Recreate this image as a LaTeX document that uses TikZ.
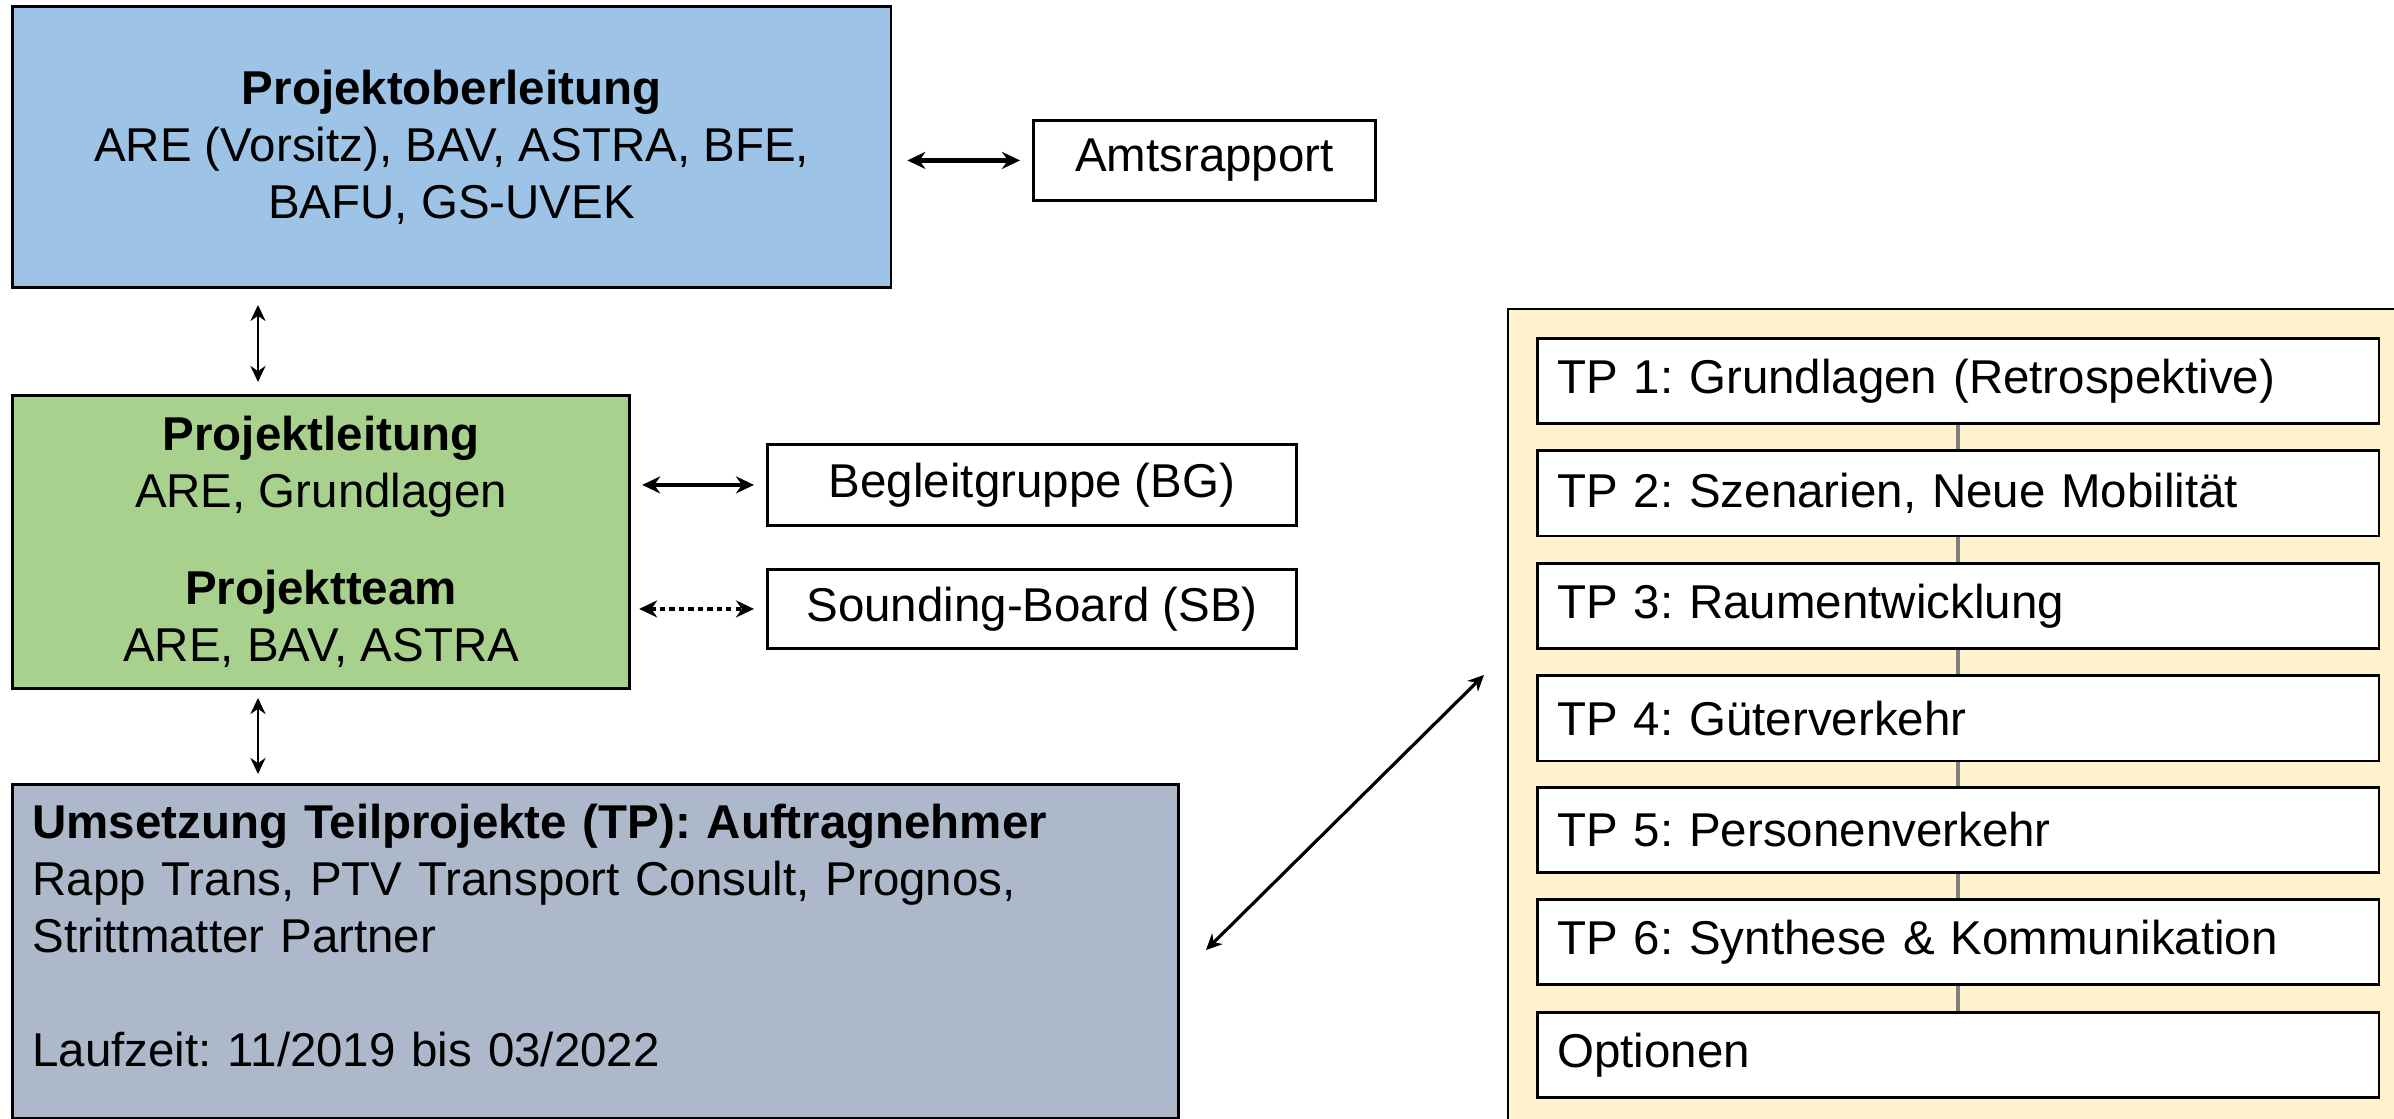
\documentclass[tikz,border=0pt]{standalone}
\usepackage{fontspec}
\setmainfont{Liberation Sans}
\usetikzlibrary{arrows.meta,calc}
\definecolor{blueF}{RGB}{157,195,230}
\definecolor{greenF}{RGB}{169,209,142}
\definecolor{grayF}{RGB}{173,185,202}
\definecolor{yellowF}{RGB}{255,242,204}
\definecolor{connG}{RGB}{128,128,128}
\begin{document}
\frenchspacing
\begin{tikzpicture}[x=0.01cm,y=-0.01cm,
  font=\fontsize{13.5}{16.2}\selectfont,
  box/.style={draw=black, line width=0.8pt, inner sep=0pt, anchor=north west},
  tpbox/.style={box, fill=white, minimum width=8.41cm, minimum height=0.85cm,
    text width=8.01cm, inner xsep=0.2cm, align=left},
  harr/.style={{Stealth[length=0.18cm,width=0.17cm]}-{Stealth[length=0.18cm,width=0.17cm]}, line width=1.2pt},
  varr/.style={{Stealth[length=0.16cm,width=0.15cm]}-{Stealth[length=0.16cm,width=0.15cm]}, line width=0.8pt},
  tpconn/.style={draw=connG, line width=1.3pt}]
\useasboundingbox (0,0) rectangle (2394,1119);

% left column
\node[box, fill=blueF, minimum width=8.78cm, minimum height=2.81cm, align=center] (pol) at (11,5)
  {\textbf{Projektoberleitung}\\ARE (Vorsitz), BAV, ASTRA, BFE,\\BAFU, GS-UVEK};
\node[box, fill=white, minimum width=3.42cm, minimum height=0.80cm] (amt) at (1032,119) {Amtsrapport};

\node[box, fill=greenF, minimum width=6.17cm, minimum height=2.93cm, align=center] (pl) at (11,394)
  {\textbf{Projektleitung}\\ARE, Grundlagen\\[0.4cm]\textbf{Projektteam}\\ARE, BAV, ASTRA};
\node[box, fill=white, minimum width=5.29cm, minimum height=0.81cm] (bg) at (766,443) {Begleitgruppe (BG)};
\node[box, fill=white, minimum width=5.29cm, minimum height=0.79cm] (sb) at (766,568) {Sounding-Board (SB)};

\node[box, fill=grayF, minimum width=11.65cm, minimum height=3.34cm, text width=11.25cm, inner xsep=0.2cm, align=left] (tp) at (11,783)
  {\textbf{Umsetzung Teilprojekte (TP): Auftragnehmer}\\Rapp Trans, PTV Transport Consult, Prognos,\\Strittmatter Partner\\[0.57cm]Laufzeit: 11/2019 bis 03/2022\rule[-0.33cm]{0pt}{0.33cm}};

% right container
\draw[line width=0.8pt, fill=yellowF] (1508,309) rectangle (2420,1140);
\node[tpbox] (t1) at (1536,337) {TP 1: Grundlagen (Retrospektive)};
\node[tpbox] (t2) at (1536,449.5) {TP 2: Szenarien, Neue Mobilität};
\node[tpbox] (t3) at (1536,562) {TP 3: Raumentwicklung};
\node[tpbox] (t4) at (1536,674.5) {TP 4: Güterverkehr};
\node[tpbox] (t5) at (1536,786) {TP 5: Personenverkehr};
\node[tpbox] (t6) at (1536,898) {TP 6: Synthese \& Kommunikation};
\node[tpbox] (t7) at (1536,1011) {Optionen};
\foreach \a/\b in {t1/t2,t2/t3,t3/t4,t4/t5,t5/t6,t6/t7}
  \draw[tpconn] (\a.south) -- (\b.north);

% connectors
\coordinate (vx) at (258,0);
\draw[varr, shorten <=0.16cm, shorten >=0.12cm] (pol.south -| vx) -- (pl.north -| vx);
\draw[varr, shorten <=0.08cm, shorten >=0.09cm] (pl.south -| vx) -- (tp.north -| vx);
\draw[harr, shorten <=0.15cm, shorten >=0.12cm] (pol.east |- amt.west) -- (amt.west);
\draw[harr, shorten <=0.11cm, shorten >=0.12cm] (pl.east |- bg.west) -- (bg.west);
\draw[harr, dash pattern=on 1.5pt off 1.2pt, shorten <=0.08cm, shorten >=0.12cm] (pl.east |- sb.west) -- (sb.west);
\coordinate (d1) at (1206,950);
\coordinate (d2) at (1484,675);
\draw[varr, line width=0.9pt] (d1) -- (d2);
\end{tikzpicture}
\end{document}
